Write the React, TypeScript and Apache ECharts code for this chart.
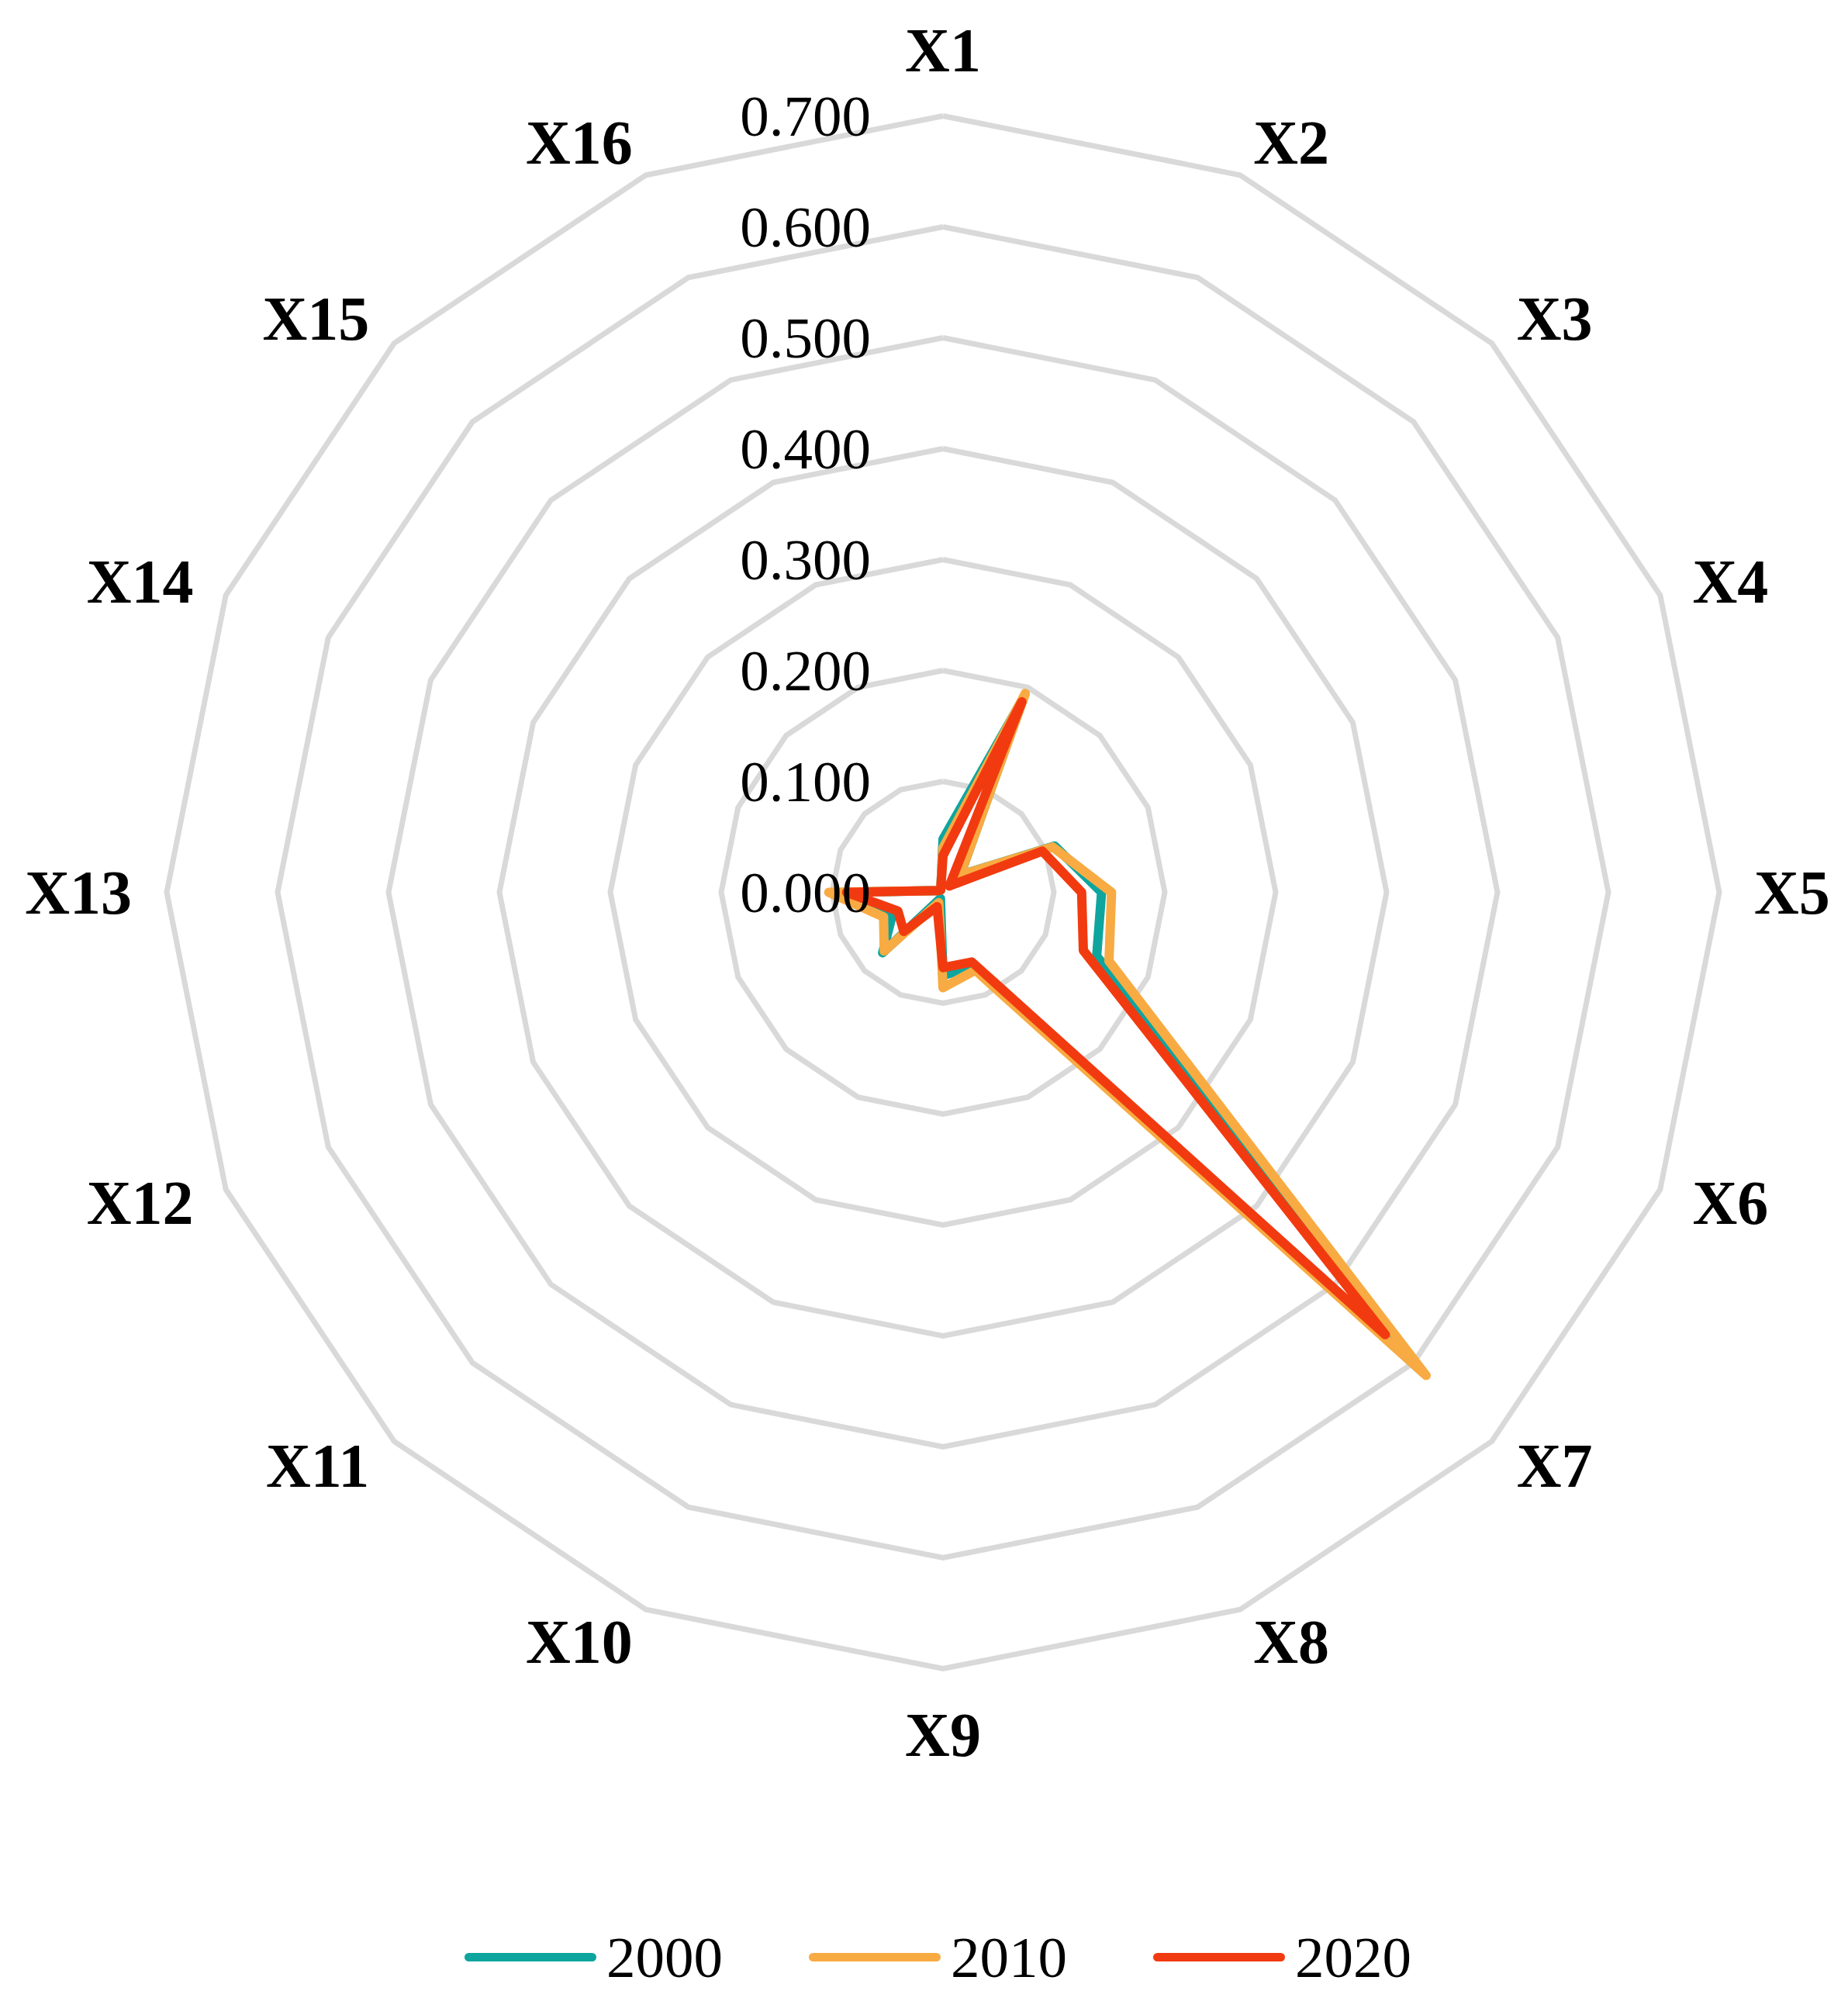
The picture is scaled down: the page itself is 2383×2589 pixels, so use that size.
import React, { useEffect, useRef } from 'react';
import * as echarts from 'echarts';

const categories = ['X1', 'X2', 'X3', 'X4', 'X5', 'X6', 'X7', 'X8', 'X9', 'X10', 'X11', 'X12', 'X13', 'X14', 'X15', 'X16'];
const years = ['2000', '2010', '2020'];
const values2000 = [0.048, 0.19, 0.022, 0.109, 0.143, 0.150, 0.612, 0.072, 0.075, 0.006, 0.077, 0.049, 0.090, 0.004, 0.003, 0.005];
const values2010 = [0.040, 0.194, 0.022, 0.107, 0.152, 0.162, 0.616, 0.076, 0.086, 0.010, 0.075, 0.058, 0.103, 0.004, 0.003, 0.005];
const values2020 = [0.033, 0.186, 0.008, 0.097, 0.125, 0.137, 0.564, 0.068, 0.068, 0.014, 0.050, 0.044, 0.087, 0.004, 0.003, 0.005];
const tickValues = [0, 0.1, 0.2, 0.3, 0.4, 0.5, 0.6, 0.7];
const colors = ['#0ea59f', '#f8ab42', '#f23a10'];

const FONT = "'Liberation Serif', 'Times New Roman', serif";

export default function App() {
  const ref = useRef<HTMLDivElement>(null);
  useEffect(() => {
    document.body.style.margin = '0';
    const chart = echarts.init(ref.current as HTMLDivElement, null, { renderer: 'svg' });
    const n = categories.length;
    // ECharts radar runs counter-clockwise; reorder so the chart reads clockwise
    const order = [0];
    for (let i = n - 1; i >= 1; i--) order.push(i);
    const seriesData = [values2000, values2010, values2020];
    const min = tickValues[0];
    const max = tickValues[tickValues.length - 1];
    const interval = tickValues[1] - tickValues[0];
    chart.setOption({
      animation: false,
      backgroundColor: '#ffffff',
      color: colors,
      radar: {
        center: [1216, 1150.5],
        radius: 1001,
        startAngle: 90,
        splitNumber: tickValues.length - 1,
        shape: 'polygon',
        indicator: order.map((k) => ({ name: categories[k], min, max })),
        axisName: { color: '#000', fontFamily: FONT, fontWeight: 'bold', fontSize: 80 },
        nameGap: 45,
        axisLine: { show: false },
        axisTick: { show: false },
        axisLabel: { show: false },
        splitLine: { lineStyle: { color: '#d9d9d9', width: 7 } },
        splitArea: { show: false },
      },
      grid: { left: 1216, top: 149.5, width: 10, height: 1001, containLabel: false },
      xAxis: { type: 'value', show: false },
      yAxis: {
        type: 'value',
        min,
        max,
        interval,
        position: 'left',
        z: 10,
        axisLine: { show: false },
        axisTick: { show: false },
        splitLine: { show: false },
        axisLabel: {
          margin: 93,
          fontFamily: FONT,
          fontSize: 75,
          color: '#000',
          formatter: (v: number) => v.toFixed(3),
        },
      },
      legend: {
        left: 594,
        top: 2481,
        itemWidth: 170,
        itemHeight: 11,
        itemGap: 111,
        icon: 'path://M5.5,0H164.5A5.5,5.5,0,0,1,164.5,11H5.5A5.5,5.5,0,0,1,5.5,0Z',
        textStyle: { fontFamily: FONT, fontSize: 75, color: '#000', padding: [0, 0, 0, 8] },
        data: years,
      },
      series: [
        {
          type: 'radar',
          symbol: 'none',
          z: 2,
          data: years.map((y, i) => ({
            name: y,
            value: order.map((k) => seriesData[i][k]),
            itemStyle: { color: colors[i] },
            lineStyle: { color: colors[i], width: 12, cap: 'round', join: 'round' },
          })),
        },
      ],
    });
    return () => chart.dispose();
  }, []);
  return <div ref={ref} style={{ position: 'absolute', left: 0, top: 0, width: 2383, height: 2589 }} />;
}
